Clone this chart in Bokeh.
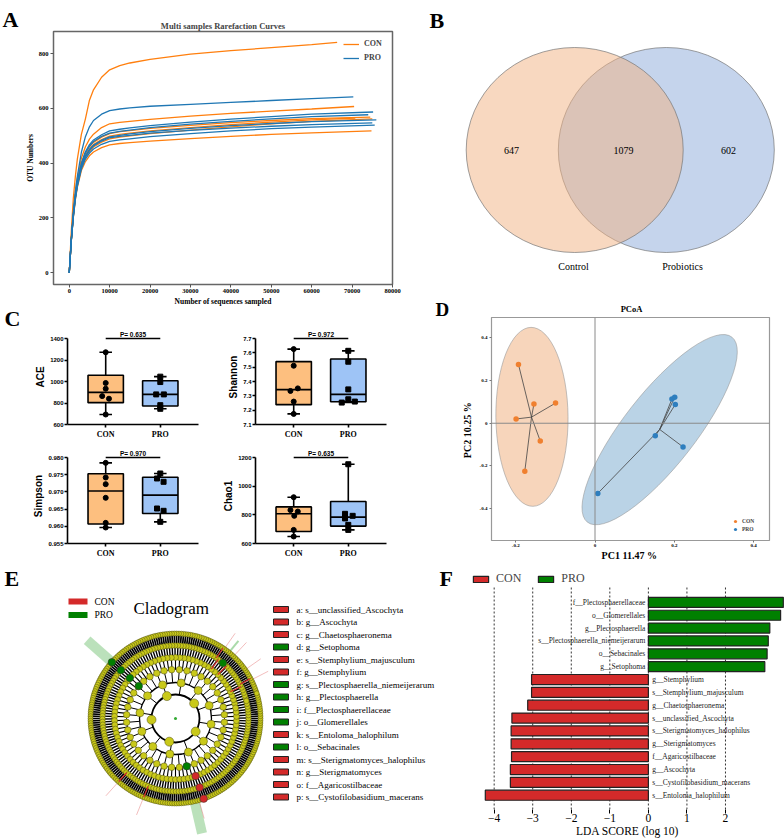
import numpy as np
from bokeh.plotting import figure
from bokeh.models import (Range1d, FixedTicker, NumeralTickFormatter, Legend,
                          LegendItem, Span)
from bokeh.layouts import row, column
from bokeh.embed import file_html
from bokeh.resources import INLINE
from bokeh.core.properties import value

SERIF = "Liberation Serif"
SANS = "Liberation Sans"
ORANGE = "#ff7f0e"
BLUE = "#1f77b4"
RED = "#D42A2A"
GREEN = "#008000"

# ======================= DATA =======================
# A: rarefaction curves (sequencing depth vs OTU number)
rare_depths = [0, 500, 1000, 1500, 2000, 3000, 4000, 5000, 6000, 8000, 10000,
               12500, 15000, 20000, 30000, 40000, 50000, 60000]
con_otus = [
    [0, 150, 270, 350, 415, 505, 562, 630, 668, 714, 741, 756, 766, 779, 798, 811, 822, 833],
    [0, 125, 225, 295, 345, 418, 460, 488, 506, 530, 544, 549, 553, 560, 572, 582, 590, 598],
    [0, 120, 212, 282, 330, 398, 437, 460, 476, 495, 508, 515, 519, 527, 538, 548, 556, 563],
    [0, 118, 210, 278, 326, 393, 430, 452, 468, 486, 499, 505, 510, 518, 530, 541, 550, 558],
    [0, 116, 206, 272, 320, 385, 422, 443, 459, 477, 489, 495, 500, 508, 521, 533, 544, 553],
    [0, 114, 200, 265, 312, 373, 406, 427, 441, 457, 467, 472, 475, 481, 490, 498, 505, 511],
]
con_end_depth = [66300, 70500, 74500, 70800, 75000, 74800]
con_end_otu = [841, 607, 568, 565, 562, 518]
pro_otus = [
    [0, 122, 220, 295, 352, 440, 497, 533, 556, 579, 592, 598, 602, 608, 615, 622, 629, 636],
    [0, 120, 212, 282, 332, 400, 442, 468, 485, 504, 518, 524, 529, 537, 550, 561, 570, 579],
    [0, 119, 210, 280, 329, 396, 437, 462, 479, 498, 510, 516, 521, 530, 543, 553, 562, 570],
    [0, 117, 206, 274, 322, 388, 426, 450, 466, 484, 496, 502, 507, 515, 527, 537, 545, 552],
    [0, 116, 205, 272, 320, 386, 423, 447, 463, 481, 493, 498, 502, 510, 520, 528, 535, 541],
    [0, 114, 202, 268, 315, 379, 415, 437, 452, 469, 480, 485, 489, 497, 508, 518, 526, 532],
]
pro_end_depth = [70300, 75200, 74000, 76000, 75000, 75600]
pro_end_otu = [642, 587, 577, 558, 547, 539]
rare_x_ticks = [0, 10000, 20000, 30000, 40000, 50000, 60000, 70000, 80000]
rare_y_ticks = [0, 200, 400, 600, 800]

# B: Venn
venn_sets = ["Control", "Probiotics"]
venn_counts = [647, 1079, 602]   # only Control, shared, only Probiotics

# C: alpha diversity
ace_con = [1272, 986, 933, 864, 840, 693]
ace_con_dx = [0, 0, 0, -0.065, 0.06, 0]
ace_pro = [1045, 995, 880, 880, 780, 746]
ace_pro_dx = [0, 0, -0.075, 0.065, 0, 0]
shannon_con = [7.626, 7.510, 7.352, 7.334, 7.260, 7.174]
shannon_con_dx = [0, 0, 0.075, -0.06, 0, 0]
shannon_pro = [7.614, 7.538, 7.345, 7.276, 7.260, 7.253]
shannon_pro_dx = [0, 0, 0, 0, 0.12, -0.12]
simpson_con = [0.97845, 0.97419, 0.97225, 0.96828, 0.9610, 0.95965]
simpson_con_dx = [0, 0, 0, 0, 0, 0]
simpson_pro = [0.97535, 0.9739, 0.97293, 0.96517, 0.9645, 0.9613]
simpson_pro_dx = [0, -0.06, 0.06, -0.06, 0.06, 0]
chao1_con = [923, 833, 823, 793, 695, 649]
chao1_con_dx = [0, -0.06, 0.075, 0.01, 0, 0]
chao1_pro = [1153, 807, 793, 775, 730, 695]
chao1_pro_dx = [0, -0.06, 0.08, -0.06, 0, 0]
p_values = {"ACE": "0.635", "Shannon": "0.972", "Simpson": "0.970", "Chao1": "0.635"}

# D: PCoA
pcoa_con_pc1 = [-0.193, -0.154, -0.0995, -0.199, -0.138, -0.177]
pcoa_con_pc2 = [0.276, 0.090, 0.0945, 0.020, -0.0835, -0.225]
pcoa_pro_pc1 = [0.194, 0.201, 0.2025, 0.152, 0.222, 0.007]
pcoa_pro_pc2 = [0.114, 0.122, 0.0885, -0.059, -0.111, -0.329]
ellipse_cx = [-0.159, 0.163]
ellipse_cy = [0.03, -0.03]
ellipse_w = [0.182, 0.592]
ellipse_h = [0.84, 0.338]
ellipse_angle_deg = [0.6, 52]
pcoa_ticks = [-0.4, -0.2, 0, 0.2, 0.4]

# E: cladogram
clade_level_n = [1, 5, 12, 40, 90, 160, 230]
biomarker_letter = list("abcdefghijklmnop")
biomarker_name = ["s__unclassified_Ascochyta", "g__Ascochyta", "g__Chaetosphaeronema",
                  "g__Setophoma", "s__Stemphylium_majusculum", "g__Stemphylium",
                  "s__Plectosphaerella_niemeijerarum", "g__Plectosphaerella",
                  "f__Plectosphaerellaceae", "o__Glomerellales", "s__Entoloma_halophilum",
                  "o__Sebacinales", "s__Sterigmatomyces_halophilus", "g__Sterigmatomyces",
                  "f__Agaricostilbaceae", "s__Cystofilobasidium_macerans"]
biomarker_group = ["CON", "CON", "CON", "PRO", "CON", "CON", "PRO", "PRO", "PRO", "PRO",
                   "CON", "PRO", "CON", "CON", "CON", "CON"]
biomarker_angle = [56, 54, 46, 49.5, 28, 26, 138.5, 138.5, 138.5, 138.5, -132, -76.8,
                   -70.6, -70.7, -70.8, -112]
biomarker_shown = [0, 0, 0, 1, 0, 0, 1, 1, 1, 1, 0, 1, 1, 1, 1, 0]

# F: LDA
lda_names = ["f__Plectosphaerellaceae", "o__Glomerellales", "g__Plectosphaerella",
             "s__Plectosphaerella_niemeijerarum", "o__Sebacinales", "g__Setophoma",
             "g__Stemphylium", "s__Stemphylium_majusculum", "g__Chaetosphaeronema",
             "s__unclassified_Ascochyta", "s__Sterigmatomyces_halophilus",
             "g__Sterigmatomyces", "f__Agaricostilbaceae", "g__Ascochyta",
             "s__Cystofilobasidium_macerans", "s__Entoloma_halophilum"]
lda_scores = [3.50, 3.43, 3.15, 3.11, 3.08, 3.02, -3.03, -3.03, -3.13, -3.54, -3.56,
              -3.56, -3.55, -3.58, -3.58, -4.23]
lda_ticks = [-4, -3, -2, -1, 0, 1, 2]


# ======================= HELPERS =======================
def base_fig(w, h, xr, yr, **kw):
    p = figure(width=w, height=h, x_range=xr, y_range=yr, output_backend="svg",
               toolbar_location=None, **kw)
    p.frame_align = False
    p.grid.grid_line_color = None
    p.outline_line_color = None
    return p


def canvas_fig(w, h, x0, x1, y0, y1):
    """figure whose frame fills the whole canvas; y grows downward (page-like)"""
    return base_fig(w, h, Range1d(x0, x1), Range1d(y1, y0), x_axis_type=None,
                    y_axis_type=None, min_border=0, min_border_left=0, min_border_right=0,
                    min_border_top=0, min_border_bottom=0, title=None)


def style_axis(ax, font, size, bold=True, lw=1.0, tick_out=3):
    ax.axis_line_width = lw
    ax.major_tick_line_width = lw
    ax.major_tick_out = tick_out
    ax.major_tick_in = 0
    ax.minor_tick_line_color = None
    ax.major_label_text_font = font
    ax.major_label_text_font_size = size
    ax.major_label_text_font_style = "bold" if bold else "normal"
    ax.major_label_text_color = "black"
    ax.axis_label_text_color = "black"
    ax.axis_label_text_font = font
    ax.axis_label_text_font_style = "bold" if bold else "normal"
    ax.major_label_standoff = 2
    ax.axis_label_standoff = 2


def letter(p, txt, x, y, size="22px"):
    p.text(x=[x], y=[y], text=[txt], text_align="left", text_baseline="alphabetic",
           text_font=value(SERIF), text_font_size=value(size), text_font_style="bold",
           text_color="black")


# ======================= letter column (A, C) =======================
sL = canvas_fig(22, 563, 0, 22, 0, 563)
letter(sL, "A", 2, 19)
letter(sL, "C", 4, 318)

# ======================= A =======================
pA = base_fig(386, 308, Range1d(-3900, 80000), Range1d(-43, 881),
              min_border_left=26, min_border_right=16, min_border_top=31, min_border_bottom=21)
pA.outline_line_color = "#666666"
pA.outline_line_width = 1.5
pA.title.text = "Multi samples Rarefaction Curves"
pA.title.align = "center"
pA.title.text_font = SERIF
pA.title.text_font_size = "8.5px"
pA.title.text_font_style = "bold"
pA.title.standoff = 2
con_lines = [pA.line(rare_depths + [ex], ys + [ey], line_color=ORANGE, line_width=1.3)
             for ys, ex, ey in zip(con_otus, con_end_depth, con_end_otu)]
pro_lines = [pA.line(rare_depths + [ex], ys + [ey], line_color=BLUE, line_width=1.3)
             for ys, ex, ey in zip(pro_otus, pro_end_depth, pro_end_otu)]
pA.add_layout(Legend(items=[LegendItem(label="CON", renderers=[con_lines[0]]),
                            LegendItem(label="PRO", renderers=[pro_lines[0]])],
                     location="top_right", border_line_color=None, background_fill_alpha=0,
                     label_text_font=SERIF, label_text_font_size="8px",
                     label_text_font_style="bold", glyph_width=16, glyph_height=8,
                     spacing=5, margin=8, padding=5, label_standoff=5))
style_axis(pA.xaxis, SERIF, "6.5px")
style_axis(pA.yaxis, SERIF, "6.5px")
pA.axis.axis_line_color = None
pA.xaxis.ticker = FixedTicker(ticks=rare_x_ticks)
pA.xaxis.formatter = NumeralTickFormatter(format="0")
pA.yaxis.ticker = FixedTicker(ticks=rare_y_ticks)
pA.xaxis.axis_label = "Number of sequences sampled"
pA.yaxis.axis_label = "OTU Numbers"
pA.axis.axis_label_text_font_size = "7.5px"
pA.axis.major_tick_line_color = "#555555"
pA.xaxis.axis_label_standoff = 1
pA.xaxis.major_label_standoff = 1
pA.yaxis.axis_label_standoff = 1

# ======================= B (with letters B, D and the PCoA title) =======================
pB = canvas_fig(376, 317, 408, 784, 0, 317)
pB.ellipse(x=[665.8], y=[149.5], width=216, height=205, fill_color="#8BA9D9",
           fill_alpha=0.5, line_color="#777777", line_width=0.7)
pB.ellipse(x=[574.2], y=[149.5], width=217, height=205, fill_color="#F1B181",
           fill_alpha=0.5, line_color="#777777", line_width=0.7)
pB.text(x=[511, 623, 728], y=[150, 150, 150], text=[str(v) for v in venn_counts],
        text_align="center", text_baseline="middle", text_font=value(SERIF),
        text_font_size=value("10px"), text_color="black")
pB.text(x=[573, 682], y=[266, 266], text=venn_sets, text_align="center",
        text_baseline="middle", text_font=value(SERIF), text_font_size=value("10px"),
        text_color="black")
letter(pB, "B", 429, 20)
letter(pB, "D", 435, 309, size="19px")
pB.text(x=[631], y=[308.5], text=["PCoA"], text_align="center", text_baseline="middle",
        text_font=value(SERIF), text_font_size=value("8.5px"), text_font_style="bold",
        text_color="black")

# ======================= C =======================
C_FILL = "#FDBF7F"
P_FILL = "#9EC4F6"


def box_panel(w, h, bl, br, bt, bb, con, con_dx, pro, pro_dx, lo, hi, ticks, fmt,
              ylabel, pval):
    pad = (hi - lo) * 9.0 / 86.0
    p = base_fig(w, h, Range1d(0.3, 2.7), Range1d(lo, hi + pad), min_border_left=bl,
                 min_border_right=br, min_border_top=bt, min_border_bottom=bb, title=None)
    for xc, vals, dx, fill, marker in ((1, con, con_dx, C_FILL, "circle"),
                                       (2, pro, pro_dx, P_FILL, "square")):
        v = np.array(vals, dtype=float)
        q1, med, q3 = np.percentile(v, [25, 50, 75], method="weibull")
        wlo, whi = v.min(), v.max()
        p.segment(x0=[xc, xc], y0=[wlo, q3], x1=[xc, xc], y1=[q1, whi],
                  line_color="black", line_width=1.6)
        p.segment(x0=[xc - 0.115] * 2, y0=[wlo, whi], x1=[xc + 0.115] * 2, y1=[wlo, whi],
                  line_color="black", line_width=1.6)
        p.quad(left=[xc - 0.324], right=[xc + 0.324], bottom=[q1], top=[q3],
               fill_color=fill, line_color="black", line_width=1.6)
        p.segment(x0=[xc - 0.324], y0=[med], x1=[xc + 0.324], y1=[med],
                  line_color="black", line_width=1.6)
        p.scatter(x=xc + np.array(dx), y=v, marker=marker, size=5, fill_color="black",
                  line_color="black")
    p.segment(x0=[1], y0=[hi], x1=[2], y1=[hi], line_color="black", line_width=1.5)
    p.text(x=[1.5], y=[hi], text=["P= " + pval], text_align="center",
           text_baseline="bottom", y_offset=-1, text_font=value(SANS),
           text_font_size=value("6.5px"), text_font_style="bold", text_color="black")
    style_axis(p.xaxis, SERIF, "8px", lw=1.6)
    style_axis(p.yaxis, SANS, "6px", lw=1.6)
    p.xaxis.ticker = FixedTicker(ticks=[1, 2])
    p.xaxis.major_label_overrides = {1: "CON", 2: "PRO"}
    p.yaxis.ticker = FixedTicker(ticks=ticks)
    p.yaxis.formatter = NumeralTickFormatter(format=fmt)
    p.yaxis.bounds = (lo, hi)
    p.yaxis.axis_label = ylabel
    p.yaxis.axis_label_text_font_size = "10px"
    p.yaxis.axis_label_standoff = 1
    p.yaxis.major_label_standoff = 1
    return p


pACE = box_panel(186, 133, 45, 10, 21, 17, ace_con, ace_con_dx, ace_pro, ace_pro_dx,
                 600, 1400, [600, 800, 1000, 1200, 1400], "0", "ACE", p_values["ACE"])
pSha = box_panel(200, 133, 47, 22, 21, 17, shannon_con, shannon_con_dx, shannon_pro,
                 shannon_pro_dx, 7.1, 7.7, [7.1, 7.2, 7.3, 7.4, 7.5, 7.6, 7.7], "0.0",
                 "Shannon", p_values["Shannon"])
pSim = box_panel(186, 122, 45, 10, 7, 20, simpson_con, simpson_con_dx, simpson_pro,
                 simpson_pro_dx, 0.955, 0.980, [0.955, 0.960, 0.965, 0.970, 0.975, 0.980],
                 "0.000", "Simpson", p_values["Simpson"])
pCha = box_panel(200, 122, 47, 22, 7, 20, chao1_con, chao1_con_dx, chao1_pro,
                 chao1_pro_dx, 600, 1200, [600, 800, 1000, 1200], "0", "Chao1",
                 p_values["Chao1"])

# ======================= D =======================
pD = base_fig(376, 246, Range1d(-0.261, 0.44), Range1d(-0.55, 0.496), min_border_left=83,
              min_border_right=15, min_border_top=0, min_border_bottom=20, title=None)
pD.outline_line_color = "#999999"
pD.outline_line_width = 1.2
pD.ellipse(x=ellipse_cx, y=ellipse_cy, width=ellipse_w, height=ellipse_h,
           angle=list(np.deg2rad(ellipse_angle_deg)), fill_color=["#F7D5BB", "#BAD3E6"],
           line_color="#9a9a9a", line_width=0.6)
pD.add_layout(Span(location=0, dimension="height", line_color="#8a8a8a", line_width=1))
pD.add_layout(Span(location=0, dimension="width", line_color="#8a8a8a", line_width=1))
for xs, ys in ((pcoa_con_pc1, pcoa_con_pc2), (pcoa_pro_pc1, pcoa_pro_pc2)):
    mx, my = float(np.mean(xs)), float(np.mean(ys))
    pD.segment(x0=[mx] * len(xs), y0=[my] * len(ys), x1=xs, y1=ys, line_color="#444444",
               line_width=0.8)
rc = pD.scatter(pcoa_con_pc1, pcoa_con_pc2, size=5.5, fill_color="#F0802F", line_color=None)
rp = pD.scatter(pcoa_pro_pc1, pcoa_pro_pc2, size=5.5, fill_color="#2E7EBE", line_color=None)
pD.add_layout(Legend(items=[LegendItem(label="CON", renderers=[rc]),
                            LegendItem(label="PRO", renderers=[rp])],
                     location="bottom_right", border_line_color=None, background_fill_alpha=0,
                     label_text_font=SERIF, label_text_font_size="5.5px",
                     label_text_font_style="bold", glyph_width=8, glyph_height=8,
                     spacing=0, padding=2, margin=7, label_standoff=3, label_height=8))
style_axis(pD.xaxis, SERIF, "5px", tick_out=2)
style_axis(pD.yaxis, SERIF, "5px", tick_out=2)
pD.axis.axis_line_color = None
pD.axis.major_tick_line_color = "#777777"
pD.xaxis.ticker = FixedTicker(ticks=[-0.2, 0, 0.2, 0.4])
pD.yaxis.ticker = FixedTicker(ticks=pcoa_ticks)
pD.xaxis.major_label_overrides = {-0.2: "-0.2", 0: "0", 0.2: "0.2", 0.4: "0.4"}
pD.yaxis.major_label_overrides = {-0.4: "-0.4", -0.2: "-0.2", 0: "0", 0.2: "0.2", 0.4: "0.4"}
pD.xaxis.axis_label = "PC1  11.47 %"
pD.yaxis.axis_label = "PC2  10.25 %"
pD.axis.axis_label_text_font_size = "10px"
pD.xaxis.major_label_standoff = 1
pD.xaxis.axis_label_standoff = 0
pD.yaxis.axis_label_standoff = 4

# ======================= E =======================
pE = canvas_fig(455, 276, 0, 455, 563, 839)
CX, CY = 175.0, 718.0
RING_R = [0, 24, 36, 49, 61, 73, 85]
NODE_SIZE = [4, 9, 8, 6.5, 6, 5.5, 5]


def polar(r, deg):
    a = np.deg2rad(np.asarray(deg, dtype=float))
    return CX + r * np.cos(a), CY - r * np.sin(a)


# clade shading outside the ring
for ang, wdt, alp, r_out in ((138.5, 10, 0.4, 118), (-77.0, 10, 0.4, 118), (51, 2, 0.5, 100)):
    x0, y0 = polar(87, ang)
    x1, y1 = polar(r_out, ang)
    pE.segment(x0=[x0], y0=[y0], x1=[x1], y1=[y1], line_color="#55B555", line_width=wdt,
               line_alpha=alp)
for ang in (27, 35, 55, 47, -132, -112, -74):
    x0, y0 = polar(87, ang)
    x1, y1 = polar(104, ang)
    pE.segment(x0=[x0], y0=[y0], x1=[x1], y1=[y1], line_color="#E06060", line_width=0.7,
               line_alpha=0.6)

pE.circle(x=[CX] * 5, y=[CY] * 5, radius=RING_R[1:6], fill_color=None, line_color="black",
          line_width=[1.8, 1.3, 1.0, 1.0, 1.0])
spoke_w = {2: 1.0, 3: 1.0, 4: 1.1, 5: 1.4, 6: 1.7}
for k in range(2, 7):
    n = clade_level_n[k]
    ang = (np.arange(n) + 0.5) * 360.0 / n + 3 * k
    xa, ya = polar(RING_R[k - 1], ang)
    xb, yb = polar(RING_R[k], ang)
    pE.segment(x0=xa, y0=ya, x1=xb, y1=yb, line_color="black", line_width=spoke_w[k])
for k in range(1, 7):
    n = clade_level_n[k]
    ang = (np.arange(n) + 0.5) * 360.0 / n + 3 * k
    xs, ys = polar(RING_R[k], ang)
    pE.scatter(xs, ys, size=NODE_SIZE[k], fill_color="#C9C91A", line_color="#4d4d10",
               line_width=0.5)
pE.scatter([CX], [CY], size=3, fill_color="#33aa33", line_color=None)

level_of = {"o": 3, "f": 4, "g": 5, "s": 6}
for nm, grp, ang, shown in zip(biomarker_name, biomarker_group, biomarker_angle,
                               biomarker_shown):
    lv = level_of[nm[0]]
    col = RED if grp == "CON" else GREEN
    x, y = polar(RING_R[lv], ang)
    if shown:
        pE.scatter([x], [y], size=7.5, fill_color=col, line_color="#333333",
                   line_width=0.5)
    else:
        x0, y0 = polar(RING_R[lv - 1], ang)
        pE.segment(x0=[x0], y0=[y0], x1=[x], y1=[y], line_color=RED, line_width=1.2)

rows_y = [609 + 12.5 * i for i in range(len(biomarker_name))]
pE.rect(x=[280.5] * len(rows_y), y=rows_y, width=15, height=6,
        fill_color=[RED if g == "CON" else GREEN for g in biomarker_group],
        line_color="#222222", line_width=1)
pE.text(x=[296] * len(rows_y), y=rows_y,
        text=[f"{l}: {n}" for l, n in zip(biomarker_letter, biomarker_name)],
        text_align="left", text_baseline="middle", text_font=value(SERIF),
        text_font_size=value("9px"), text_color="black")
pE.rect(x=[77.5, 77.5], y=[601, 614.5], width=19, height=6, fill_color=[RED, GREEN],
        line_color=None)
pE.text(x=[94, 94], y=[601, 614.5], text=["CON", "PRO"], text_align="left",
        text_baseline="middle", text_font=value(SERIF), text_font_size=value("9.5px"),
        text_color="black")
pE.text(x=[133], y=[608], text=["Cladogram"], text_align="left", text_baseline="middle",
        text_font=value(SERIF), text_font_size=value("17px"), text_color="black")
letter(pE, "E", 4, 578)
letter(pE, "F", 439, 578)

# ======================= F =======================
pF = base_fig(329, 276, Range1d(-4.614, 3.531), Range1d(-1.11, 17.48), min_border_left=15,
              min_border_right=0, min_border_top=7, min_border_bottom=29, y_axis_type=None,
              title=None)
nF = len(lda_names)
ypos = [nF - 1 - i for i in range(nF)]
pF.segment(x0=lda_ticks, y0=[-1.11] * len(lda_ticks), x1=lda_ticks,
           y1=[16.2] * len(lda_ticks), line_color="black", line_width=0.8,
           line_dash="2 2")
g_idx = [i for i, s in enumerate(lda_scores) if s > 0]
r_idx = [i for i, s in enumerate(lda_scores) if s <= 0]
rg = pF.hbar(y=[ypos[i] for i in g_idx], left=0, right=[lda_scores[i] for i in g_idx],
             height=0.78, fill_color=GREEN, line_color="#222222", line_width=1.2)
rr = pF.hbar(y=[ypos[i] for i in r_idx], left=0, right=[lda_scores[i] for i in r_idx],
             height=0.78, fill_color=RED, line_color="#222222", line_width=1.2)
pF.text(x=[-0.08] * len(g_idx), y=[ypos[i] for i in g_idx],
        text=[lda_names[i] for i in g_idx], text_align="right", text_baseline="middle",
        text_font=value(SERIF), text_font_size=value("7.5px"), text_color="#222222")
pF.text(x=[0.1] * len(r_idx), y=[ypos[i] for i in r_idx],
        text=[lda_names[i] for i in r_idx], text_align="left", text_baseline="middle",
        text_font=value(SERIF), text_font_size=value("7.5px"), text_color="#222222")
pF.add_layout(Legend(items=[LegendItem(label="CON", renderers=[rr]),
                            LegendItem(label="PRO", renderers=[rg])],
                     location="top_left", orientation="horizontal", border_line_color=None,
                     background_fill_alpha=0, label_text_font=SERIF,
                     label_text_font_size="12px", glyph_width=19, glyph_height=8,
                     spacing=15, padding=2, margin=1, label_standoff=6))
style_axis(pF.xaxis, SERIF, "11.5px", bold=False, tick_out=4)
pF.xaxis.axis_line_color = None
pF.xaxis.ticker = FixedTicker(ticks=lda_ticks)
pF.xaxis.major_label_overrides = {t: (("\u2212" + str(-t)) if t < 0 else str(t))
                                  for t in lda_ticks}
pF.xaxis.axis_label = "LDA SCORE (log 10)"
pF.xaxis.axis_label_text_font_size = "11.5px"
pF.xaxis.major_label_standoff = 0
pF.xaxis.axis_label_standoff = 0

# ======================= LAYOUT =======================
panelC = column(row(pACE, pSha), row(pSim, pCha))
top = row(sL, column(pA, panelC), column(pB, pD))
page = column(top, row(pE, pF))

open("out.html", "w").write(file_html(page, INLINE, "Figure"))
